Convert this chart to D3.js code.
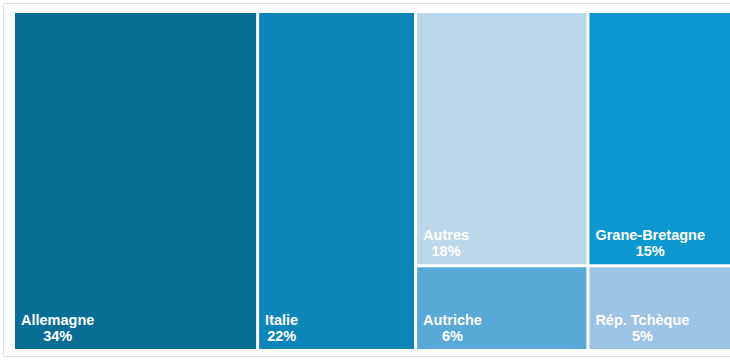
<!DOCTYPE html>
<html lang="fr">
<head>
<meta charset="utf-8">
<script src="https://cdn.jsdelivr.net/npm/d3@7"></script>
<style>
  html, body { margin: 0; padding: 0; background: #ffffff; }
  svg { display: block; }
  .lbl { font-family: "Liberation Sans", Arial, Helvetica, sans-serif; font-weight: bold; font-size: 14.5px; fill: #ffffff; }
</style>
</head>
<body>
<svg id="chart" width="730" height="360"></svg>
<script>
// Parts par pays, regroupées en colonnes
const countries = ["Allemagne", "Italie", "Autres", "Autriche", "Grane-Bretagne", "Rép. Tchèque"];
const shares    = [34, 22, 18, 6, 15, 5];
const columns   = [0, 1, 2, 2, 3, 3];
const colors    = ["#086e96", "#0d85b8", "#bbd7eb", "#58a8d8", "#0f98cf", "#9dc4e4"];

const width = 730, height = 360;
const area = { x0: 15, y0: 13, x1: 730, y1: 349 };

const svg = d3.select("#chart");

// Cadre gris clair autour du graphique
svg.append("rect")
  .attr("x", 3.5).attr("y", 3.5)
  .attr("width", width).attr("height", height - 7)
  .attr("fill", "none")
  .attr("stroke", "#dde2e7")
  .attr("stroke-width", 1);

// Hiérarchie : racine -> colonnes -> pays
const nCols = d3.max(columns) + 1;
const tree = {
  name: "root",
  children: d3.range(nCols).map(c => ({
    name: "col" + c,
    children: countries
      .map((name, i) => ({ name, value: shares[i], color: colors[i], col: columns[i] }))
      .filter(d => d.col === c)
  }))
};

const root = d3.hierarchy(tree).sum(d => d.value || 0);

d3.treemap()
  .tile(d3.treemapSliceDice)
  .size([area.x1 - area.x0, area.y1 - area.y0])
  .paddingInner(3)(root);

const g = svg.append("g").attr("transform", `translate(${area.x0},${area.y0})`);

const cell = g.selectAll("g.cell")
  .data(root.leaves())
  .join("g")
  .attr("class", "cell");

cell.append("rect")
  .attr("x", d => d.x0)
  .attr("y", d => d.y0)
  .attr("width", d => d.x1 - d.x0)
  .attr("height", d => d.y1 - d.y0)
  .attr("fill", d => d.data.color);

// Nom du pays aligné à gauche, pourcentage centré sous le nom
cell.each(function(d) {
  const sel = d3.select(this);
  const name = sel.append("text")
    .attr("class", "lbl")
    .attr("x", d.x0 + 6)
    .attr("y", d.y1 - 24)
    .text(d.data.name);
  const w = name.node().getComputedTextLength();
  sel.append("text")
    .attr("class", "lbl")
    .attr("x", d.x0 + 6 + w / 2)
    .attr("y", d.y1 - 8)
    .attr("text-anchor", "middle")
    .text(d.data.value + "%");
});
</script>
</body>
</html>
